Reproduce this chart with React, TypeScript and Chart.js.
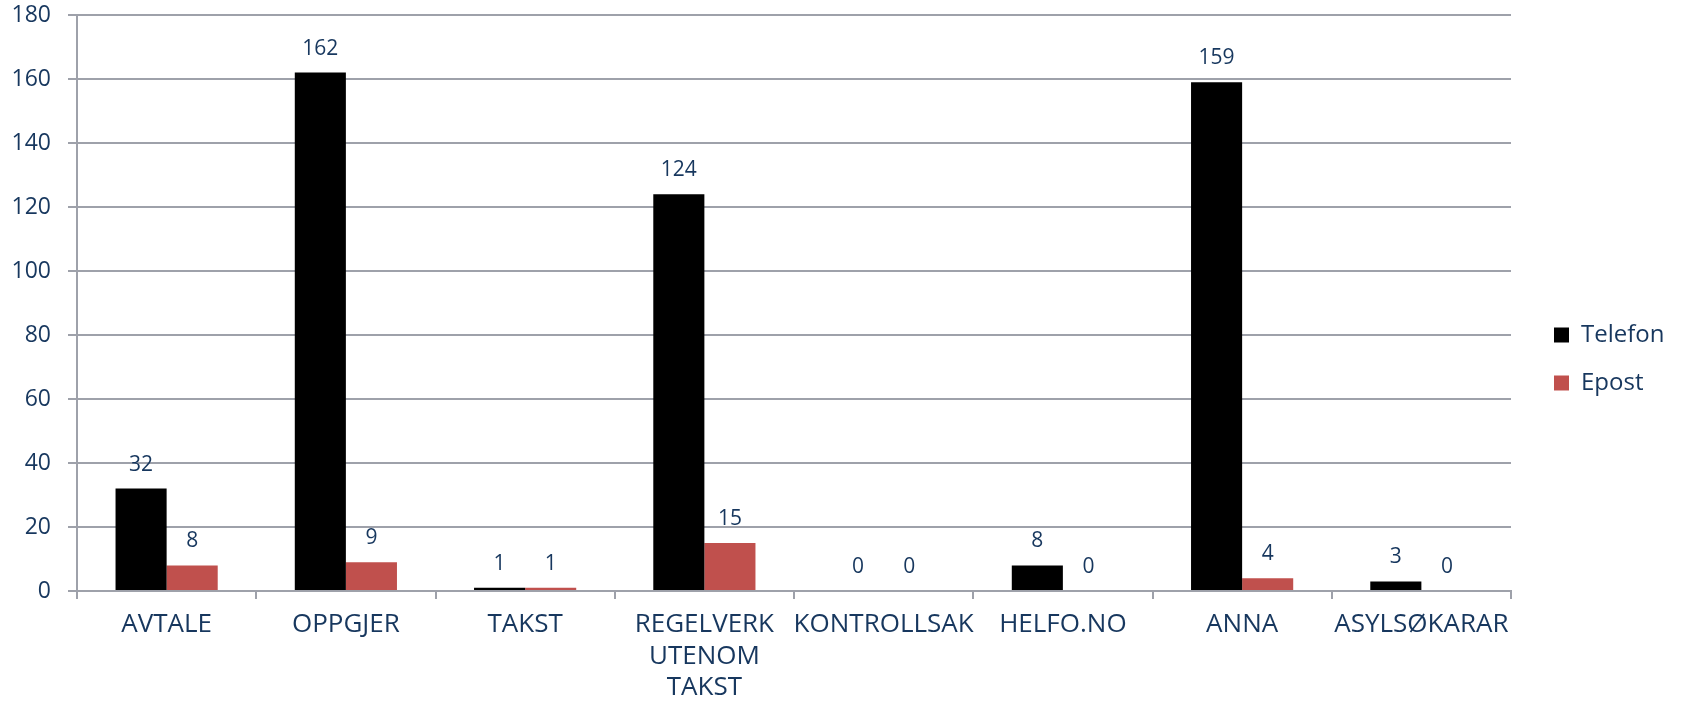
import React, { useEffect, useRef } from "react";
import { Chart, registerables } from "chart.js";

Chart.register(...registerables);

const categories: (string | string[])[] = [
  "AVTALE",
  "OPPGJER",
  "TAKST",
  ["REGELVERK", "UTENOM", "TAKST"],
  "KONTROLLSAK",
  "HELFO.NO",
  "ANNA",
  "ASYLSØKARAR",
];
const telefon = [32, 162, 1, 124, 0, 8, 159, 3];
const epost = [8, 9, 1, 15, 0, 0, 4, 0];
const yMax = 180;
const yStep = 20;

const NAVY = "#17375E";
const GRID = "#9EA1AA";
const FONT = "'Open Sans', sans-serif";

const valueLabels = {
  id: "valueLabels",
  afterDatasetsDraw(chart: any) {
    const ctx = chart.ctx;
    ctx.save();
    ctx.font = `21px ${FONT}`;
    ctx.fillStyle = NAVY;
    ctx.textAlign = "center";
    ctx.textBaseline = "middle";
    chart.data.datasets.forEach((ds: any, i: number) => {
      const meta = chart.getDatasetMeta(i);
      meta.data.forEach((bar: any, j: number) => {
        ctx.fillText(String(ds.data[j]), bar.x, bar.y - 24);
      });
    });
    ctx.restore();
  },
};

// Fix legend box width and shift its items so the plot ends where the reference does.
const legendTweak = {
  id: "legendTweak",
  beforeLayout(chart: any) {
    const lg = chart.legend;
    if (lg && !lg.__patched) {
      const orig = lg.fit.bind(lg);
      lg.fit = function () {
        orig();
        this.width = 170;
        this.minSize = { width: 170, height: this.height };
      };
      lg.__patched = true;
    }
  },
  afterLayout(chart: any) {
    const lg = chart.legend;
    if (lg) {
      lg.left += 19;
      lg.right += 19;
      if (lg.adjustHitBoxes) lg.adjustHitBoxes();
    }
  },
};

export default function App() {
  const ref = useRef<HTMLCanvasElement>(null);
  useEffect(() => {
    if (!ref.current) return;
    const chart = new Chart(ref.current, {
      type: "bar",
      data: {
        labels: categories,
        datasets: [
          {
            label: "Telefon",
            data: telefon,
            backgroundColor: "#000000",
            borderColor: "#000000",
            borderWidth: 0,
            categoryPercentage: 0.57,
            barPercentage: 1.0,
          },
          {
            label: "Epost",
            data: epost,
            backgroundColor: "#C0504D",
            borderColor: "#C0504D",
            borderWidth: 0,
            categoryPercentage: 0.57,
            barPercentage: 1.0,
          },
        ],
      },
      options: {
        responsive: false,
        animation: false,
        devicePixelRatio: 1,
        layout: { padding: { top: 15, right: 0, bottom: 0, left: 0 } },
        plugins: {
          tooltip: { enabled: false },
          legend: {
            position: "right",
            align: "center",
            labels: {
              boxWidth: 15,
              boxHeight: 15,
              padding: 24,
              color: NAVY,
              font: { family: FONT, size: 24 },
            },
          },
        },
        scales: {
          x: {
            grid: {
              display: true,
              drawOnChartArea: false,
              drawTicks: true,
              tickLength: 8,
              color: GRID,
              lineWidth: 2,
              offset: true,
            },
            border: { display: true, color: GRID, width: 2 },
            ticks: {
              color: NAVY,
              font: { family: FONT, size: 26, lineHeight: 1.21 },
              padding: 10,
              maxRotation: 0,
              autoSkip: false,
            },
            afterFit: (scale: any) => {
              scale.height = 112;
            },
          },
          y: {
            min: 0,
            max: yMax,
            ticks: {
              stepSize: yStep,
              color: NAVY,
              font: { family: FONT, size: 23 },
              padding: 17,
            },
            grid: {
              color: GRID,
              lineWidth: 2,
              drawTicks: true,
              tickLength: 9,
            },
            border: { display: true, color: GRID, width: 2 },
            afterFit: (scale: any) => {
              scale.width = 77;
              scale.paddingTop = 0;
              scale.paddingBottom = 0;
            },
          },
        },
      },
      plugins: [legendTweak, valueLabels],
    });
    return () => chart.destroy();
  }, []);
  return (
    <div style={{ position: "fixed", left: 0, top: 0, width: 1681, height: 703, background: "#fff" }}>
      <canvas ref={ref} width={1681} height={703} />
    </div>
  );
}
